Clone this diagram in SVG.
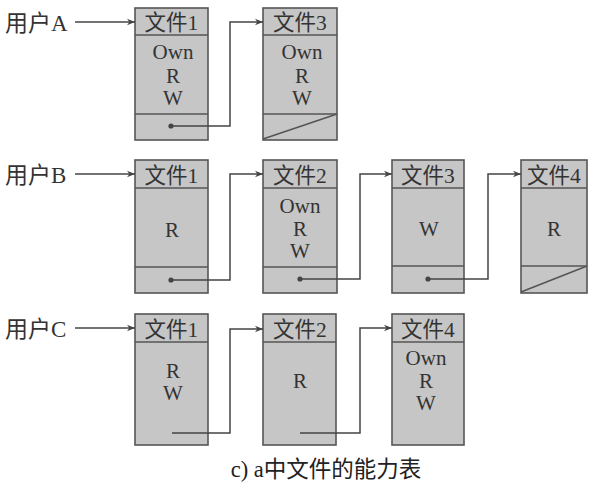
<svg xmlns="http://www.w3.org/2000/svg" width="601" height="495" viewBox="0 0 601 495">
<style>
.box{fill:#c6c6c6;stroke:#555;stroke-width:1.6}
.ln{stroke:#555;stroke-width:1.6;fill:none}
.conn{stroke:#444;stroke-width:1.5;fill:none}
.hd{font-family:"Liberation Serif","Noto Sans CJK SC",serif;font-size:21.5px;fill:#333;text-anchor:middle}
.lb{font-family:"Liberation Serif","Noto Sans CJK SC",serif;font-size:21px;fill:#333;text-anchor:middle}
.us{font-family:"Liberation Serif","Noto Sans CJK SC",serif;font-size:23px;fill:#333}
.cap{font-family:"Liberation Serif","Noto Sans CJK SC",serif;font-size:22.5px;fill:#222;text-anchor:middle}
</style>
<defs>
<marker id="ah" viewBox="0 0 10 10" refX="10" refY="5" markerWidth="11" markerHeight="8" markerUnits="userSpaceOnUse" orient="auto">
<path d="M0,1 L10,5 L0,9 L3,5 Z" fill="#444"/>
</marker>
<circle id="dot" r="2.6" fill="#444"/>
</defs>

<g id="userA"><text class="us" x="5" y="31">用户A</text></g>
<g id="userB"><text class="us" x="5" y="183">用户B</text></g>
<g id="userC"><text class="us" x="5" y="337">用户C</text></g>

<!-- Row A -->
<g id="A-file1">
<rect class="box" x="135" y="8" width="73" height="132"/>
<line class="ln" x1="135" y1="35" x2="208" y2="35"/>
<line class="ln" x1="135" y1="114" x2="208" y2="114"/>
<text class="hd" x="171.5" y="30">文件1</text>
<text class="lb" x="173" y="59">Own</text>
<text class="lb" x="173" y="83">R</text>
<text class="lb" x="173" y="105">W</text>
</g>
<g id="A-file3">
<rect class="box" x="263" y="8" width="74" height="132"/>
<line class="ln" x1="263" y1="35" x2="337" y2="35"/>
<line class="ln" x1="263" y1="114" x2="337" y2="114"/>
<line class="ln" x1="263" y1="139" x2="337" y2="114"/>
<text class="hd" x="300" y="30">文件3</text>
<text class="lb" x="302" y="59">Own</text>
<text class="lb" x="302" y="83">R</text>
<text class="lb" x="302" y="105">W</text>
</g>

<!-- Row B -->
<g id="B-file1">
<rect class="box" x="135" y="160" width="73" height="133"/>
<line class="ln" x1="135" y1="188" x2="208" y2="188"/>
<line class="ln" x1="135" y1="267" x2="208" y2="267"/>
<text class="hd" x="171.5" y="183">文件1</text>
<text class="lb" x="172" y="237">R</text>
</g>
<g id="B-file2">
<rect class="box" x="263" y="160" width="74" height="133"/>
<line class="ln" x1="263" y1="188" x2="337" y2="188"/>
<line class="ln" x1="263" y1="267" x2="337" y2="267"/>
<text class="hd" x="300" y="183">文件2</text>
<text class="lb" x="300" y="213">Own</text>
<text class="lb" x="300" y="236">R</text>
<text class="lb" x="300" y="258">W</text>
</g>
<g id="B-file3">
<rect class="box" x="392" y="160" width="72" height="133"/>
<line class="ln" x1="392" y1="188" x2="464" y2="188"/>
<line class="ln" x1="392" y1="266" x2="464" y2="266"/>
<text class="hd" x="428" y="183">文件3</text>
<text class="lb" x="429" y="236">W</text>
</g>
<g id="B-file4">
<rect class="box" x="521" y="160" width="66" height="133"/>
<line class="ln" x1="521" y1="188" x2="587" y2="188"/>
<line class="ln" x1="521" y1="266" x2="587" y2="266"/>
<line class="ln" x1="521" y1="292" x2="587" y2="266"/>
<text class="hd" x="554" y="183">文件4</text>
<text class="lb" x="554" y="236">R</text>
</g>

<!-- Row C -->
<g id="C-file1">
<rect class="box" x="135" y="314" width="73" height="131"/>
<line class="ln" x1="135" y1="342" x2="208" y2="342"/>
<text class="hd" x="171.5" y="337">文件1</text>
<text class="lb" x="173" y="378">R</text>
<text class="lb" x="173" y="400">W</text>
</g>
<g id="C-file2">
<rect class="box" x="263" y="314" width="73" height="131"/>
<line class="ln" x1="263" y1="342" x2="336" y2="342"/>
<text class="hd" x="300" y="337">文件2</text>
<text class="lb" x="300" y="388">R</text>
</g>
<g id="C-file4">
<rect class="box" x="392" y="314" width="72" height="131"/>
<line class="ln" x1="392" y1="342" x2="464" y2="342"/>
<text class="hd" x="428" y="337">文件4</text>
<text class="lb" x="426" y="365">Own</text>
<text class="lb" x="426" y="388">R</text>
<text class="lb" x="426" y="410">W</text>
</g>

<g id="connectors">
<line class="conn" x1="75" y1="22" x2="135" y2="22" marker-end="url(#ah)"/>
<line class="conn" x1="75" y1="174" x2="135" y2="174" marker-end="url(#ah)"/>
<line class="conn" x1="75" y1="328" x2="135" y2="328" marker-end="url(#ah)"/>
<use href="#dot" x="171" y="126"/>
<polyline class="conn" points="171,126 230,126 230,22 263,22" marker-end="url(#ah)"/>
<use href="#dot" x="171" y="280"/>
<polyline class="conn" points="171,280 230,280 230,174 263,174" marker-end="url(#ah)"/>
<use href="#dot" x="300" y="279"/>
<polyline class="conn" points="300,279 360,279 360,174 392,174" marker-end="url(#ah)"/>
<use href="#dot" x="428" y="279"/>
<polyline class="conn" points="428,279 488,279 488,174 521,174" marker-end="url(#ah)"/>
<polyline class="conn" points="172,433 230,433 230,329 263,329" marker-end="url(#ah)"/>
<polyline class="conn" points="300,433 360,433 360,328 392,328" marker-end="url(#ah)"/>
</g>

<g id="caption"><text class="cap" x="326" y="477">c) a中文件的能力表</text></g>
</svg>
